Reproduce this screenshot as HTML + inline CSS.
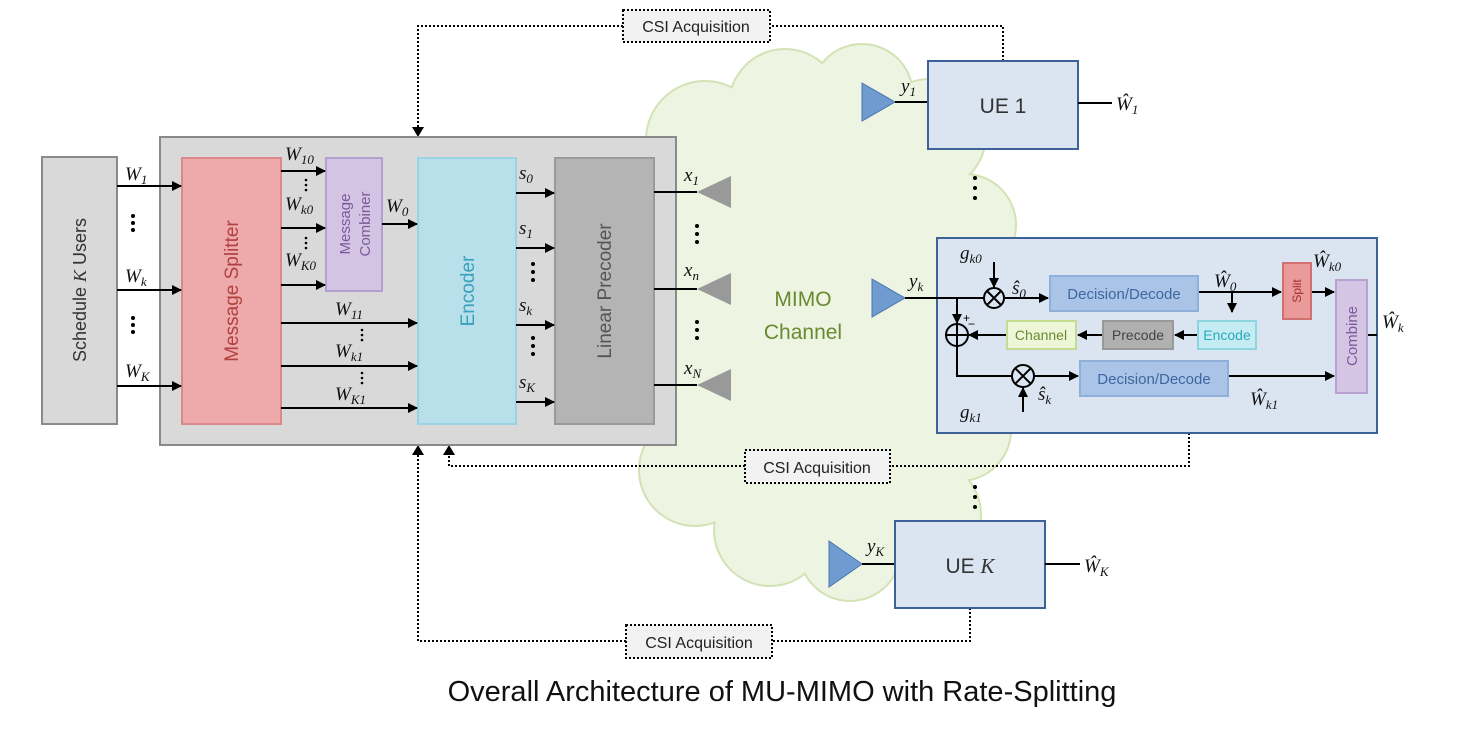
<!DOCTYPE html>
<html><head><meta charset="utf-8"><style>
body{margin:0;background:#fff}
svg{display:block}
.m{font-family:"Liberation Serif",serif;font-style:italic;font-size:19px;fill:#111}
.s{font-family:"Liberation Serif",serif;font-style:italic;font-size:13px}
.t{font-family:"Liberation Sans",sans-serif}
</style></head><body>
<svg width="1457" height="731" viewBox="0 0 1457 731" xmlns="http://www.w3.org/2000/svg">
<defs>
<marker id="a" viewBox="0 0 10 10" refX="9" refY="5" markerWidth="5" markerHeight="5" orient="auto"><path d="M0,0L10,5L0,10z" fill="#000"/></marker>
</defs>
<!-- cloud -->
<g stroke="#d3e2b5" stroke-width="4" fill="#d3e2b5">
<circle cx="705" cy="140" r="58"/><circle cx="785" cy="105" r="55"/><circle cx="862" cy="95" r="50"/><circle cx="930" cy="135" r="55"/><circle cx="965" cy="225" r="50"/><circle cx="975" cy="330" r="50"/><circle cx="960" cy="430" r="50"/><circle cx="925" cy="515" r="55"/><circle cx="850" cy="550" r="50"/><circle cx="770" cy="530" r="55"/><circle cx="695" cy="470" r="55"/><circle cx="668" cy="380" r="45"/><circle cx="668" cy="275" r="45"/><circle cx="680" cy="200" r="45"/><ellipse cx="820" cy="330" rx="150" ry="220"/>
</g>
<g fill="#eef4e2">
<circle cx="705" cy="140" r="58"/><circle cx="785" cy="105" r="55"/><circle cx="862" cy="95" r="50"/><circle cx="930" cy="135" r="55"/><circle cx="965" cy="225" r="50"/><circle cx="975" cy="330" r="50"/><circle cx="960" cy="430" r="50"/><circle cx="925" cy="515" r="55"/><circle cx="850" cy="550" r="50"/><circle cx="770" cy="530" r="55"/><circle cx="695" cy="470" r="55"/><circle cx="668" cy="380" r="45"/><circle cx="668" cy="275" r="45"/><circle cx="680" cy="200" r="45"/><ellipse cx="820" cy="330" rx="150" ry="220"/>
</g>
<text x="803" y="306" class="t" font-size="21" fill="#6a8a30" text-anchor="middle">MIMO</text>
<text x="803" y="339" class="t" font-size="21" fill="#6a8a30" text-anchor="middle">Channel</text>

<!-- CSI dotted lines -->
<g fill="none" stroke="#000" stroke-width="2" stroke-dasharray="2,2">
<path d="M1003,61V26H770M623,26H418V130"/>
<path d="M1189,433V466H890M745,466H449V452"/>
<path d="M970,608V641H772M626,641H418V452"/>
</g>
<path d="M412,127h12l-6,10z" fill="#000"/>
<path d="M412,455h12l-6,-10z" fill="#000"/>
<path d="M443,455h12l-6,-10z" fill="#000"/>
<g class="t" font-size="16" fill="#222">
<rect x="623" y="10" width="147" height="32" fill="#f2f2f2" stroke="#000" stroke-width="2" stroke-dasharray="2,2"/>
<text x="696" y="32" text-anchor="middle">CSI Acquisition</text>
<rect x="745" y="450" width="145" height="33" fill="#f2f2f2" stroke="#000" stroke-width="2" stroke-dasharray="2,2"/>
<text x="817" y="473" text-anchor="middle">CSI Acquisition</text>
<rect x="626" y="625" width="146" height="33" fill="#f2f2f2" stroke="#000" stroke-width="2" stroke-dasharray="2,2"/>
<text x="699" y="648" text-anchor="middle">CSI Acquisition</text>
</g>

<!-- Schedule -->
<rect x="42" y="157" width="75" height="267" fill="#d9d9d9" stroke="#8a8a8a" stroke-width="2"/>
<text transform="translate(86,290) rotate(-90)" class="t" font-size="18" fill="#333" text-anchor="middle">Schedule <tspan font-family="Liberation Serif" font-style="italic">K</tspan> Users</text>
<!-- main box -->
<rect x="160" y="137" width="516" height="308" fill="#d9d9d9" stroke="#8a8a8a" stroke-width="2"/>
<rect x="182" y="158" width="99" height="266" fill="#eeaaaa" stroke="#d88" stroke-width="2"/>
<text transform="translate(238,291) rotate(-90)" class="t" font-size="19" fill="#b04040" text-anchor="middle">Message Splitter</text>
<rect x="326" y="158" width="56" height="133" fill="#d3c4e4" stroke="#b4a0d0" stroke-width="2"/>
<text transform="translate(350,224) rotate(-90)" class="t" font-size="15" fill="#7a5a9a" text-anchor="middle">Message</text>
<text transform="translate(370,224) rotate(-90)" class="t" font-size="15" fill="#7a5a9a" text-anchor="middle">Combiner</text>
<rect x="418" y="158" width="98" height="266" fill="#b7e0ea" stroke="#9ad4e4" stroke-width="2"/>
<text transform="translate(474,291) rotate(-90)" class="t" font-size="19" fill="#3aa0bc" text-anchor="middle">Encoder</text>
<rect x="555" y="158" width="99" height="266" fill="#b4b4b4" stroke="#9a9a9a" stroke-width="2"/>
<text transform="translate(611,291) rotate(-90)" class="t" font-size="19" fill="#555" text-anchor="middle">Linear Precoder</text>

<g stroke="#000" stroke-width="2" marker-end="url(#a)">
<line x1="117" y1="186" x2="181" y2="186"/><line x1="117" y1="290" x2="181" y2="290"/><line x1="117" y1="386" x2="181" y2="386"/>
<line x1="281" y1="171" x2="325" y2="171"/><line x1="281" y1="228" x2="325" y2="228"/><line x1="281" y1="285" x2="325" y2="285"/>
<line x1="382" y1="224" x2="417" y2="224"/>
<line x1="281" y1="323" x2="417" y2="323"/><line x1="281" y1="366" x2="417" y2="366"/><line x1="281" y1="408" x2="417" y2="408"/>
<line x1="516" y1="193" x2="554" y2="193"/><line x1="516" y1="248" x2="554" y2="248"/><line x1="516" y1="325" x2="554" y2="325"/><line x1="516" y1="402" x2="554" y2="402"/>
</g>
<g stroke="#000" stroke-width="2">
<line x1="654" y1="192" x2="697" y2="192"/><line x1="654" y1="289" x2="697" y2="289"/><line x1="654" y1="385" x2="697" y2="385"/>
</g>
<g fill="#999">
<path d="M697,192L731,176V208z"/><path d="M697,289L731,273V305z"/><path d="M697,385L731,369V401z"/>
</g>
<g class="m">
<text x="125" y="180">W<tspan class="s" dy="4" fill="#111">1</tspan></text>
<text x="125" y="282">W<tspan class="s" dy="4">k</tspan></text>
<text x="125" y="377">W<tspan class="s" dy="4">K</tspan></text>
<text x="285" y="160">W<tspan class="s" dy="4">10</tspan></text>
<text x="285" y="210">W<tspan class="s" dy="4">k0</tspan></text>
<text x="285" y="266">W<tspan class="s" dy="4">K0</tspan></text>
<text x="386" y="212">W<tspan class="s" dy="4">0</tspan></text>
<text x="335" y="315">W<tspan class="s" dy="4">11</tspan></text>
<text x="335" y="357">W<tspan class="s" dy="4">k1</tspan></text>
<text x="335" y="400">W<tspan class="s" dy="4">K1</tspan></text>
<text x="519" y="179">s<tspan class="s" dy="4">0</tspan></text>
<text x="519" y="234">s<tspan class="s" dy="4">1</tspan></text>
<text x="519" y="311">s<tspan class="s" dy="4">k</tspan></text>
<text x="519" y="388">s<tspan class="s" dy="4">K</tspan></text>
<text x="684" y="181">x<tspan class="s" dy="4">1</tspan></text>
<text x="684" y="276">x<tspan class="s" dy="4">n</tspan></text>
<text x="684" y="374">x<tspan class="s" dy="4">N</tspan></text>
</g>
<!-- dots -->
<g fill="#000">
<circle cx="133" cy="216" r="2"/><circle cx="133" cy="223" r="2"/><circle cx="133" cy="230" r="2"/>
<circle cx="133" cy="318" r="2"/><circle cx="133" cy="325" r="2"/><circle cx="133" cy="332" r="2"/>
<circle cx="533" cy="264" r="2"/><circle cx="533" cy="272" r="2"/><circle cx="533" cy="280" r="2"/>
<circle cx="533" cy="338" r="2"/><circle cx="533" cy="346" r="2"/><circle cx="533" cy="354" r="2"/>
<circle cx="697" cy="226" r="2"/><circle cx="697" cy="234" r="2"/><circle cx="697" cy="242" r="2"/>
<circle cx="697" cy="322" r="2"/><circle cx="697" cy="330" r="2"/><circle cx="697" cy="338" r="2"/>
<circle cx="975" cy="178" r="2"/><circle cx="975" cy="188" r="2"/><circle cx="975" cy="198" r="2"/>
<circle cx="975" cy="487" r="2"/><circle cx="975" cy="497" r="2"/><circle cx="975" cy="507" r="2"/>
<circle cx="306" cy="180" r="1.3"/><circle cx="306" cy="185" r="1.3"/><circle cx="306" cy="190" r="1.3"/>
<circle cx="306" cy="238" r="1.3"/><circle cx="306" cy="243" r="1.3"/><circle cx="306" cy="248" r="1.3"/>
<circle cx="362" cy="330" r="1.3"/><circle cx="362" cy="335" r="1.3"/><circle cx="362" cy="340" r="1.3"/>
<circle cx="362" cy="373" r="1.3"/><circle cx="362" cy="378" r="1.3"/><circle cx="362" cy="383" r="1.3"/>
</g>

<!-- UE1 -->
<path d="M862,83L895,102L862,121z" fill="#6f9bd0" stroke="#4a76b0" stroke-width="1"/>
<line x1="895" y1="102" x2="928" y2="102" stroke="#000" stroke-width="2"/>
<rect x="928" y="61" width="150" height="88" fill="#dbe5f1" stroke="#3c6298" stroke-width="2"/>
<text x="1003" y="113" class="t" font-size="21" fill="#333" text-anchor="middle">UE 1</text>
<line x1="1078" y1="103" x2="1112" y2="103" stroke="#000" stroke-width="2"/>
<text x="901" y="92" class="m">y<tspan class="s" dy="4">1</tspan></text>
<text x="1116" y="110" class="m">Ŵ<tspan class="s" dy="4">1</tspan></text>

<!-- UE K -->
<path d="M829,541L862,564L829,587z" fill="#6f9bd0" stroke="#4a76b0" stroke-width="1"/>
<line x1="862" y1="564" x2="895" y2="564" stroke="#000" stroke-width="2"/>
<rect x="895" y="521" width="150" height="87" fill="#dbe5f1" stroke="#3c6298" stroke-width="2"/>
<text x="970" y="573" class="t" font-size="21" fill="#333" text-anchor="middle">UE <tspan font-family="Liberation Serif" font-style="italic">K</tspan></text>
<line x1="1045" y1="564" x2="1080" y2="564" stroke="#000" stroke-width="2"/>
<text x="867" y="552" class="m">y<tspan class="s" dy="4">K</tspan></text>
<text x="1084" y="572" class="m">Ŵ<tspan class="s" dy="4">K</tspan></text>

<!-- UE k -->
<path d="M872,279L905,298L872,317z" fill="#6f9bd0" stroke="#4a76b0" stroke-width="1"/>
<rect x="937" y="238" width="440" height="195" fill="#dbe5f1" stroke="#3c6298" stroke-width="2"/>
<text x="909" y="287" class="m">y<tspan class="s" dy="4">k</tspan></text>
<g stroke="#000" stroke-width="2" fill="none">
<line x1="905" y1="298" x2="984" y2="298"/>
<path d="M957,298V324M957,346V376H1012"/>
<circle cx="994" cy="298" r="10"/><path d="M987,291l14,14M1001,291l-14,14"/>
<circle cx="957" cy="335" r="11"/><path d="M946,335h22M957,324v22"/>
<circle cx="1023" cy="376" r="11"/><path d="M1015,368l16,16M1031,368l-16,16"/>
<line x1="1198" y1="292" x2="1232" y2="292"/>
<line x1="1232" y1="292" x2="1232" y2="312" marker-end="url(#a)"/>
<line x1="1004" y1="298" x2="1048" y2="298" marker-end="url(#a)"/>
<line x1="1232" y1="292" x2="1281" y2="292" marker-end="url(#a)"/>
<line x1="1311" y1="292" x2="1334" y2="292" marker-end="url(#a)"/>
<line x1="1198" y1="335" x2="1175" y2="335" marker-end="url(#a)"/>
<line x1="1103" y1="335" x2="1078" y2="335" marker-end="url(#a)"/>
<line x1="1007" y1="335" x2="969" y2="335" marker-end="url(#a)"/>
<line x1="994" y1="262" x2="994" y2="287" marker-end="url(#a)"/>
<line x1="1023" y1="412" x2="1023" y2="388" marker-end="url(#a)"/>
<line x1="957" y1="298" x2="957" y2="323" marker-end="url(#a)"/>
<line x1="1034" y1="376" x2="1078" y2="376" marker-end="url(#a)"/>
<line x1="1228" y1="376" x2="1334" y2="376" marker-end="url(#a)"/>
<line x1="1367" y1="335" x2="1377" y2="335"/>
</g>
<g class="t">
<rect x="1050" y="276" width="148" height="35" fill="#a9c4e6" stroke="#8eb0d8" stroke-width="2"/>
<text x="1124" y="299" font-size="15" fill="#3f67a0" text-anchor="middle">Decision/Decode</text>
<rect x="1080" y="361" width="148" height="35" fill="#a9c4e6" stroke="#8eb0d8" stroke-width="2"/>
<text x="1154" y="384" font-size="15" fill="#3f67a0" text-anchor="middle">Decision/Decode</text>
<rect x="1198" y="321" width="58" height="28" fill="#c5ecf2" stroke="#8fd5e0" stroke-width="2"/>
<text x="1227" y="340" font-size="14" fill="#2aa7c0" text-anchor="middle">Encode</text>
<rect x="1103" y="321" width="70" height="28" fill="#b0b0b0" stroke="#999" stroke-width="2"/>
<text x="1138" y="340" font-size="14" fill="#444" text-anchor="middle">Precode</text>
<rect x="1007" y="321" width="69" height="28" fill="#eef6d8" stroke="#c5dc90" stroke-width="2"/>
<text x="1041" y="340" font-size="14" fill="#6a8a30" text-anchor="middle">Channel</text>
<rect x="1283" y="263" width="28" height="56" fill="#ea9a9a" stroke="#d07070" stroke-width="2"/>
<text transform="translate(1301,291) rotate(-90)" font-size="12" fill="#a03030" text-anchor="middle">Split</text>
<rect x="1336" y="280" width="31" height="113" fill="#d5c5e5" stroke="#b8a0d0" stroke-width="2"/>
<text transform="translate(1357,336) rotate(-90)" font-size="15" fill="#7a5a9a" text-anchor="middle">Combine</text>
<text x="963" y="322" font-size="12" fill="#000">+</text>
<text x="968" y="328" font-size="12" fill="#000">−</text>
</g>
<g class="m">
<text x="960" y="259">g<tspan class="s" dy="4">k0</tspan></text>
<text x="1012" y="294">ŝ<tspan class="s" dy="4">0</tspan></text>
<text x="1214" y="287">Ŵ<tspan class="s" dy="4">0</tspan></text>
<text x="1313" y="267">Ŵ<tspan class="s" dy="4">k0</tspan></text>
<text x="1382" y="328">Ŵ<tspan class="s" dy="4">k</tspan></text>
<text x="1038" y="400">ŝ<tspan class="s" dy="4">k</tspan></text>
<text x="1250" y="405">Ŵ<tspan class="s" dy="4">k1</tspan></text>
<text x="960" y="418">g<tspan class="s" dy="4">k1</tspan></text>
</g>

<text x="782" y="701" class="t" font-size="29" fill="#111" text-anchor="middle">Overall Architecture of MU-MIMO with Rate-Splitting</text>
</svg>
</body></html>
